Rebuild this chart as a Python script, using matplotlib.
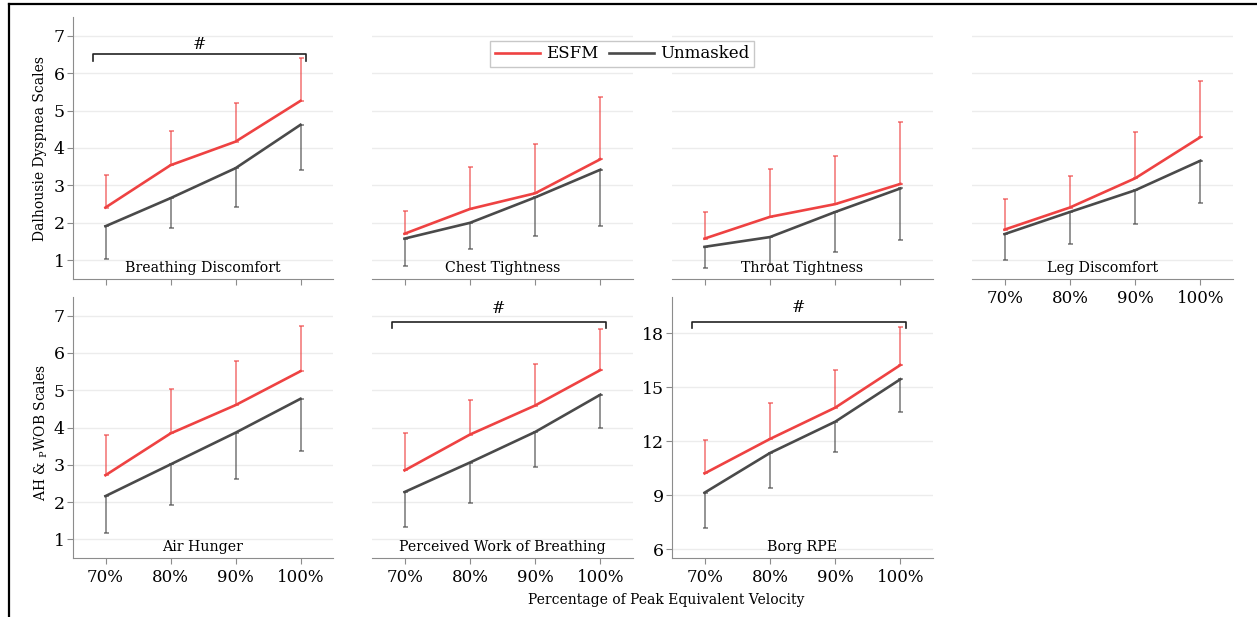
import matplotlib
matplotlib.use('Agg')
import matplotlib.pyplot as plt
from matplotlib.lines import Line2D

plt.rcParams['font.family'] = 'DejaVu Serif'
plt.rcParams['mathtext.fontset'] = 'dejavuserif'

speeds = ['70%', '80%', '90%', '100%']

# means and SD (ESFM bars go up, Unmasked bars go down)
breathing_esfm = [2.41, 3.54, 4.17, 5.26]
breathing_esfm_sd = [0.88, 0.92, 1.04, 1.14]
breathing_unm = [1.91, 2.66, 3.46, 4.62]
breathing_unm_sd = [0.88, 0.81, 1.03, 1.21]

chest_esfm = [1.71, 2.37, 2.79, 3.70]
chest_esfm_sd = [0.61, 1.11, 1.32, 1.66]
chest_unm = [1.58, 2.00, 2.68, 3.42]
chest_unm_sd = [0.72, 0.71, 1.03, 1.51]

throat_esfm = [1.58, 2.16, 2.50, 3.04]
throat_esfm_sd = [0.71, 1.28, 1.29, 1.65]
throat_unm = [1.36, 1.62, 2.29, 2.92]
throat_unm_sd = [0.56, 0.71, 1.08, 1.38]

leg_esfm = [1.82, 2.41, 3.19, 4.29]
leg_esfm_sd = [0.82, 0.83, 1.23, 1.50]
leg_unm = [1.70, 2.29, 2.87, 3.66]
leg_unm_sd = [0.68, 0.86, 0.89, 1.12]

air_esfm = [2.72, 3.84, 4.60, 5.51]
air_esfm_sd = [1.07, 1.18, 1.18, 1.22]
air_unm = [2.16, 3.01, 3.86, 4.77]
air_unm_sd = [1.00, 1.10, 1.23, 1.40]

wob_esfm = [2.85, 3.81, 4.59, 5.54]
wob_esfm_sd = [1.00, 0.93, 1.10, 1.10]
wob_unm = [2.27, 3.06, 3.88, 4.88]
wob_unm_sd = [0.95, 1.09, 0.94, 0.89]

borg_esfm = [10.20, 12.11, 13.85, 16.22]
borg_esfm_sd = [1.84, 2.00, 2.08, 2.13]
borg_unm = [9.13, 11.33, 13.07, 15.43]
borg_unm_sd = [1.98, 1.92, 1.70, 1.84]

red = '#ee4242'
gray = '#4a4a4a'

W, H = 1257, 617
fig = plt.figure(figsize=(W / 100, H / 100), dpi=100)

def px_axes(x0, y0, x1, y1):
    return [x0 / W, 1 - y1 / H, (x1 - x0) / W, (y1 - y0) / H]

def panel(rect, title, esfm, esfm_sd, unm, unm_sd, ylim, yticks,
          show_y=False, show_x=False, bracket=None):
    ax = fig.add_axes(rect)
    x = list(range(len(speeds)))
    ax.errorbar(x, esfm, yerr=[[0] * 4, esfm_sd], fmt='none', ecolor=red,
                elinewidth=1.1, capsize=1.8, capthick=1.1, alpha=0.75, zorder=2)
    ax.errorbar(x, unm, yerr=[unm_sd, [0] * 4], fmt='none', ecolor=gray,
                elinewidth=1.1, capsize=1.8, capthick=1.1, alpha=0.75, zorder=2)
    ax.plot(x, esfm, color=red, lw=1.9, zorder=3)
    ax.plot(x, unm, color=gray, lw=1.9, zorder=3)
    ax.set_xlim(-0.5, 3.5)
    ax.set_ylim(*ylim)
    ax.set_yticks(yticks)
    ax.set_xticks(x)
    ax.grid(axis='y', color='#ececec', lw=1)
    ax.set_axisbelow(True)
    for s in ['top', 'right']:
        ax.spines[s].set_visible(False)
    ax.spines['bottom'].set_color('#8c8c8c')
    ax.spines['left'].set_color('#8c8c8c')
    ax.tick_params(axis='x', length=4, color='#8c8c8c', labelsize=12,
                   pad=4, labelbottom=show_x)
    if show_x:
        ax.set_xticklabels(speeds)
    if show_y:
        ax.tick_params(axis='y', length=4, color='#8c8c8c', labelsize=12.5, pad=2)
    else:
        ax.spines['left'].set_visible(False)
        ax.tick_params(axis='y', length=0, labelleft=False)
    ax.text(0.5, 0.043, title, transform=ax.transAxes, ha='center',
            va='center', fontsize=10.2)
    if bracket:
        x0, x1, yb, ye, yh = bracket
        ax.plot([x0, x0, x1, x1], [ye, yb, yb, ye], color='#222222', lw=1.2,
                clip_on=False)
        ax.text((x0 + x1) / 2, yh, '#', ha='center', va='center', fontsize=11.5)
    return ax

scale = (0.5, 7.5)
ticks7 = [1, 2, 3, 4, 5, 6, 7]

panel(px_axes(73, 17, 333, 279), 'Breathing Discomfort', breathing_esfm,
      breathing_esfm_sd, breathing_unm, breathing_unm_sd, scale, ticks7,
      show_y=True, bracket=(-0.2, 3.09, 6.52, 6.33, 6.76))
panel(px_axes(372, 17, 633, 279), 'Chest Tightness', chest_esfm,
      chest_esfm_sd, chest_unm, chest_unm_sd, scale, ticks7)
panel(px_axes(672, 17, 933, 279), 'Throat Tightness', throat_esfm,
      throat_esfm_sd, throat_unm, throat_unm_sd, scale, ticks7)
panel(px_axes(972, 17, 1233, 279), 'Leg Discomfort', leg_esfm,
      leg_esfm_sd, leg_unm, leg_unm_sd, scale, ticks7, show_x=True)

panel(px_axes(73, 297, 333, 558), 'Air Hunger', air_esfm, air_esfm_sd,
      air_unm, air_unm_sd, scale, ticks7, show_y=True, show_x=True)
panel(px_axes(372, 297, 633, 558), 'Perceived Work of Breathing', wob_esfm,
      wob_esfm_sd, wob_unm, wob_unm_sd, scale, ticks7, show_x=True,
      bracket=(-0.2, 3.09, 6.84, 6.68, 7.19))
panel(px_axes(672, 297, 933, 558), 'Borg RPE', borg_esfm, borg_esfm_sd,
      borg_unm, borg_unm_sd, (5.5, 20), [6, 9, 12, 15, 18],
      show_y=True, show_x=True, bracket=(-0.2, 3.09, 18.6, 18.28, 19.4))

handles = [Line2D([], [], color=red, lw=1.9), Line2D([], [], color=gray, lw=1.9)]
fig.legend(handles, ['ESFM', 'Unmasked'], loc='center', ncol=2,
           bbox_to_anchor=(622 / W, 1 - 54 / H), fontsize=12, frameon=True,
           fancybox=False, edgecolor='#c8c8c8', framealpha=1,
           handlelength=2.7, handletextpad=0.4, columnspacing=0.6,
           borderpad=0.25)

fig.text(40 / W, 1 - 148 / H, 'Dalhousie Dyspnea Scales', rotation=90,
         ha='center', va='center', fontsize=10)
fig.text(41 / W, 1 - 432 / H, r'AH & $_\mathrm{P}$WOB Scales', rotation=90,
         ha='center', va='center', fontsize=10)
fig.text(666 / W, 1 - 600 / H, 'Percentage of Peak Equivalent Velocity',
         ha='center', va='center', fontsize=10)

# frame lines around the figure (top and left)
fig.add_artist(Line2D([9 / W, 9 / W], [0, 1 - 4 / H], color='black', lw=1.6))
fig.add_artist(Line2D([9 / W, 1], [1 - 4 / H, 1 - 4 / H], color='black', lw=1.6))

fig.savefig('out.png', dpi=100)
